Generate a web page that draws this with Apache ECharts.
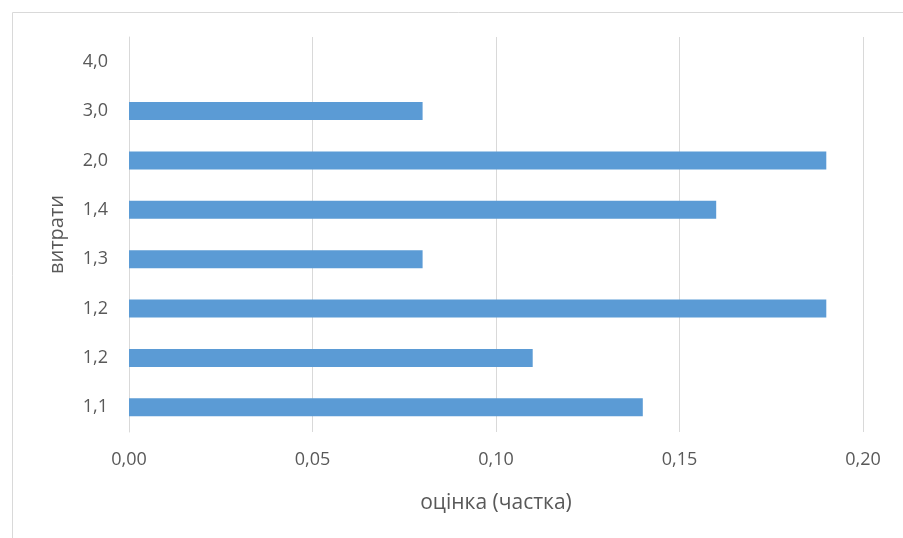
<!DOCTYPE html>
<html>
<head>
<meta charset="utf-8">
<script src="https://cdn.jsdelivr.net/npm/echarts@6/dist/echarts.min.js"></script>
<style>
  html, body { margin: 0; padding: 0; background: #fff; }
  #chart { width: 903px; height: 538px; }
</style>
</head>
<body>
<div id="chart"></div>
<script>
// категорії (знизу вгору) та значення
var categories = ['1,1', '1,2', '1,2', '1,3', '1,4', '2,0', '3,0', '4,0'];
var values = [0.14, 0.11, 0.19, 0.08, 0.16, 0.19, 0.08, 0];
var xTicks = [0, 0.05, 0.10, 0.15, 0.20];

var chart = echarts.init(document.getElementById('chart'));

var font = '"Open Sans", "Liberation Sans", sans-serif';

var option = {
    animation: false,
    textStyle: { fontFamily: font },
    graphic: [{
        type: 'rect',
        left: 10, top: 10,
        shape: { width: 900, height: 540 },
        style: { fill: 'none', stroke: '#d9d9d9', lineWidth: 1 }
    }],
    grid: {
        left: 129,
        right: 40,
        top: 37,
        bottom: 106
    },
    xAxis: {
        type: 'value',
        min: xTicks[0],
        max: xTicks[xTicks.length - 1],
        interval: 0.05,
        name: 'оцінка (частка)',
        nameLocation: 'middle',
        nameGap: 61,
        nameTextStyle: { color: '#595959', fontSize: 21, fontFamily: font },
        axisLine: { show: false },
        axisTick: { show: false },
        axisLabel: {
            color: '#595959',
            fontSize: 18,
            margin: 19,
            formatter: function (v) {
                return v.toFixed(2).replace('.', ',');
            }
        },
        splitLine: { lineStyle: { color: '#d9d9d9', width: 1 } }
    },
    yAxis: {
        type: 'category',
        data: categories,
        name: 'витрати',
        nameLocation: 'middle',
        nameGap: 62,
        nameRotate: 90,
        nameTextStyle: { color: '#595959', fontSize: 20, fontFamily: font },
        axisLine: { show: true, lineStyle: { color: '#d9d9d9', width: 1 } },
        axisTick: { show: false },
        axisLabel: { color: '#595959', fontSize: 18, margin: 21 },
        splitLine: { show: false }
    },
    series: [{
        type: 'bar',
        data: values,
        barWidth: 18,
        itemStyle: { color: '#5b9bd5' }
    }]
};

chart.setOption(option);
</script>
</body>
</html>
